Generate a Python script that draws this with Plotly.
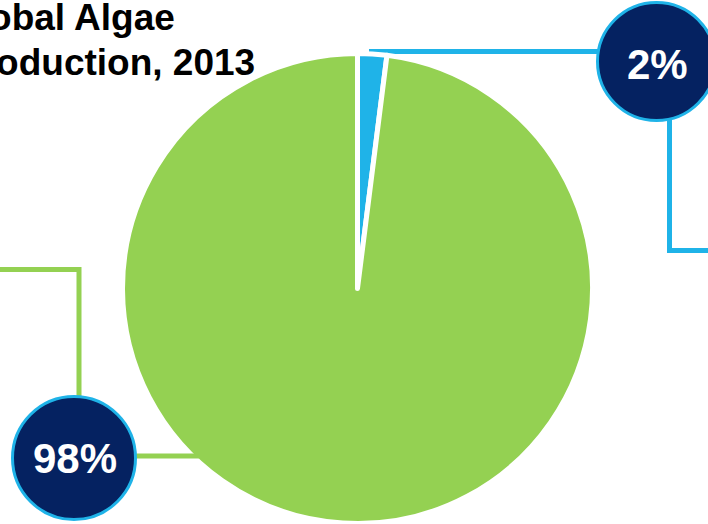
import plotly.graph_objects as go

# Global algae production shares, 2013
categories = ["Share A", "Share B"]
shares = [2, 98]
slice_colors = ["#1FB3E8", "#94D152"]
title_lines = ["Global Algae", "Production, 2013"]

W, H = 708, 524
NAVY = "#052261"
BLUE = slice_colors[0]
GREEN = slice_colors[1]
TITLE_FONT = dict(family="Liberation Sans, Arial", size=37, color="black", weight="bold")


def px(x):
    return x / W


def py(y):
    return 1 - y / H


fig = go.Figure()

fig.add_trace(go.Pie(
    labels=categories,
    values=shares,
    sort=False,
    direction="clockwise",
    rotation=0,
    textinfo="none",
    hoverinfo="label+percent",
    showlegend=False,
    marker=dict(colors=slice_colors, line=dict(color="white", width=5)),
    domain=dict(x=[px(357.5 - 235), px(357.5 + 235)],
                y=[py(523.5), py(53.5)]),
))

total = sum(shares)
pct = [f"{round(v / total * 100)}%" for v in shares]

shapes = []
# leader lines
blue_path = (f"M {px(369)},{py(51.5)} L {px(600)},{py(51.5)} "
             f"M {px(669.5)},{py(115)} L {px(669.5)},{py(250.5)} L {px(712)},{py(250.5)}")
green_path = f"M {px(-5)},{py(269.5)} L {px(79)},{py(269.5)} L {px(79)},{py(400)}"
green_tail = f"M {px(130)},{py(456)} L {px(199)},{py(456)}"
shapes.append(dict(type="path", xref="paper", yref="paper", path=blue_path,
                   line=dict(color=BLUE, width=5), layer="below"))
shapes.append(dict(type="path", xref="paper", yref="paper", path=green_path,
                   line=dict(color=GREEN, width=5), layer="below"))
shapes.append(dict(type="path", xref="paper", yref="paper", path=green_tail,
                   line=dict(color=GREEN, width=5), layer="above"))

# badge circles
badges = [(656.5, 61.5, 59), (74, 458, 61.5)]
for cx, cy, r in badges:
    shapes.append(dict(type="circle", xref="paper", yref="paper",
                       x0=px(cx - r), x1=px(cx + r), y0=py(cy + r), y1=py(cy - r),
                       fillcolor=NAVY, line=dict(color=BLUE, width=3), layer="above"))

annotations = [
    dict(text=title_lines[0], xref="paper", yref="paper",
         x=px(177), y=py(-5.3), xanchor="right", yanchor="top", align="left",
         showarrow=False, font=TITLE_FONT),
    dict(text=title_lines[1], xref="paper", yref="paper",
         x=px(257), y=py(39.7), xanchor="right", yanchor="top", align="left",
         showarrow=False, font=TITLE_FONT),
    dict(text=f"<b>{pct[0]}</b>", xref="paper", yref="paper",
         x=px(657.5), y=py(65), xanchor="center", yanchor="middle", showarrow=False,
         font=dict(family="Liberation Sans, Arial", size=42, color="white")),
    dict(text=f"<b>{pct[1]}</b>", xref="paper", yref="paper",
         x=px(74.5), y=py(458), xanchor="center", yanchor="middle", showarrow=False,
         font=dict(family="Liberation Sans, Arial", size=42, color="white")),
]

fig.update_layout(
    width=W, height=H,
    margin=dict(l=0, r=0, t=0, b=0),
    paper_bgcolor="white",
    plot_bgcolor="white",
    shapes=shapes,
    annotations=annotations,
)

fig.write_html("out.html")
